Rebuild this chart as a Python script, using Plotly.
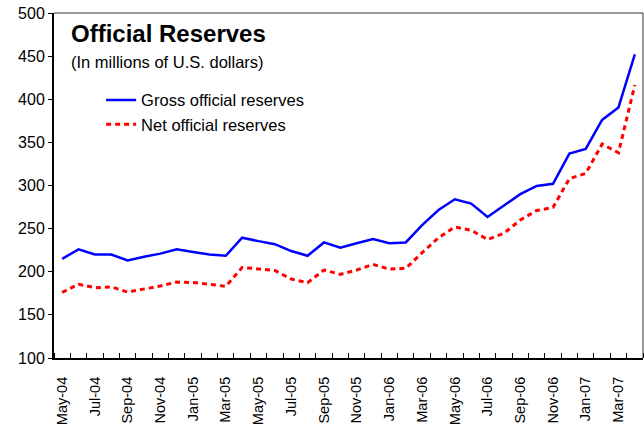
import plotly.graph_objects as go

# Monthly observations, May-04 through Apr-07
months = ["May-04", "Jun-04", "Jul-04", "Aug-04", "Sep-04", "Oct-04", "Nov-04", "Dec-04",
          "Jan-05", "Feb-05", "Mar-05", "Apr-05", "May-05", "Jun-05", "Jul-05", "Aug-05",
          "Sep-05", "Oct-05", "Nov-05", "Dec-05", "Jan-06", "Feb-06", "Mar-06", "Apr-06",
          "May-06", "Jun-06", "Jul-06", "Aug-06", "Sep-06", "Oct-06", "Nov-06", "Dec-06",
          "Jan-07", "Feb-07", "Mar-07", "Apr-07"]

gross_reserves = [215, 226, 220, 220, 213, 217.5, 221, 226, 223, 220, 218.5, 239.5,
                  235.5, 232, 224, 218.5, 234, 228, 233, 238, 233, 234, 254, 271.5,
                  284, 279, 263.5, 276.5, 290, 299.5, 302, 337, 342.5, 376, 390.5, 452]

net_reserves = [176, 185.5, 181.5, 182.5, 176.5, 180, 183.5, 188, 187.5, 185.5, 183, 205,
                203.5, 201.5, 191.5, 187.3, 202, 197, 202, 208.5, 203, 204, 222, 239.5,
                252, 248, 237.5, 244.5, 260, 271, 274.5, 308, 314, 348, 338, 416.5]

x_idx = list(range(len(months)))
label_idx = x_idx[::2]
label_txt = months[::2]

FONT = "Arial, Liberation Sans, sans-serif"

fig = go.Figure()
fig.add_trace(go.Scatter(
    x=x_idx, y=gross_reserves, mode="lines", name="Gross official reserves",
    line=dict(color="#0000FF", width=2.5)))
fig.add_trace(go.Scatter(
    x=x_idx, y=net_reserves, mode="lines", name="Net official reserves",
    line=dict(color="#FF0000", width=3, dash="5px,4px")))

fig.update_layout(
    width=644, height=427,
    margin=dict(l=54, r=1, t=13, b=69),
    paper_bgcolor="white", plot_bgcolor="white",
    font=dict(family=FONT, color="black"),
    showlegend=True,
    legend=dict(x=0.08, y=0.798, xanchor="left", yanchor="top",
                bgcolor="rgba(0,0,0,0)", borderwidth=0,
                font=dict(size=16.5, family=FONT), itemwidth=30, tracegroupgap=0),
    xaxis=dict(
        range=[-0.5, len(months) - 0.5], automargin=False,
        tickmode="array", tickvals=label_idx, ticktext=label_txt,
        tickangle=-90, tickfont=dict(size=14.5, family=FONT),
        ticks="", showgrid=False, zeroline=False,
        showline=True, linecolor="black", linewidth=2,
        ticklabelstandoff=11,
        minor=dict(tickmode="linear", tick0=-0.5, dtick=1, ticks="inside",
                   ticklen=5, tickwidth=1, tickcolor="black", showgrid=False)),
    yaxis=dict(
        range=[100, 500], dtick=50, tick0=100, automargin=False,
        tickfont=dict(size=16, family=FONT),
        ticks="outside", ticklen=4, tickwidth=1, tickcolor="black",
        showgrid=False, zeroline=False,
        showline=True, linecolor="black", linewidth=2),
)

# thin frame along the top and right of the plot area
fig.add_shape(type="line", xref="paper", yref="paper", x0=0, x1=1, y0=1, y1=1,
              line=dict(color="#333333", width=1))
fig.add_shape(type="line", xref="paper", yref="paper", x0=1, x1=1, y0=0, y1=1,
              line=dict(color="#333333", width=1))

fig.add_annotation(text="<b>Official Reserves</b>", xref="paper", yref="paper",
                   x=0.025, y=0.94, xanchor="left", yanchor="middle", showarrow=False,
                   font=dict(size=24, family=FONT, color="black"))
fig.add_annotation(text="(In millions of U.S. dollars)", xref="paper", yref="paper",
                   x=0.025, y=0.858, xanchor="left", yanchor="middle", showarrow=False,
                   font=dict(size=16.5, family=FONT, color="black"))

fig.write_html("out.html")
